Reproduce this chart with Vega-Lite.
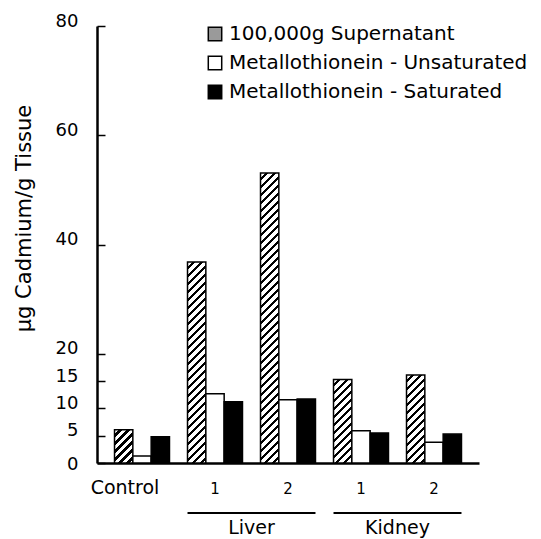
{
"$schema": "https://vega.github.io/schema/vega-lite/v6.json",
"width": 382, "height": 437,
"autosize": {"type": "none"},
"padding": {"left": 97, "top": 26, "right": 62, "bottom": 76},
"background": "white",
"config": {"view": {"stroke": null}, "font": "DejaVu Sans"},
"layer": [
{
"data": {"values": [
{"group": "Control", "series": "100,000g Supernatant", "value": 6.1},
{"group": "Control", "series": "Metallothionein - Unsaturated", "value": 1.3},
{"group": "Control", "series": "Metallothionein - Saturated", "value": 4.8},
{"group": "Liver 1", "series": "100,000g Supernatant", "value": 36.8},
{"group": "Liver 1", "series": "Metallothionein - Unsaturated", "value": 12.7},
{"group": "Liver 1", "series": "Metallothionein - Saturated", "value": 11.2},
{"group": "Liver 2", "series": "100,000g Supernatant", "value": 53.1},
{"group": "Liver 2", "series": "Metallothionein - Unsaturated", "value": 11.6},
{"group": "Liver 2", "series": "Metallothionein - Saturated", "value": 11.7},
{"group": "Kidney 1", "series": "100,000g Supernatant", "value": 15.3},
{"group": "Kidney 1", "series": "Metallothionein - Unsaturated", "value": 5.9},
{"group": "Kidney 1", "series": "Metallothionein - Saturated", "value": 5.5},
{"group": "Kidney 2", "series": "100,000g Supernatant", "value": 16.1},
{"group": "Kidney 2", "series": "Metallothionein - Unsaturated", "value": 3.8},
{"group": "Kidney 2", "series": "Metallothionein - Saturated", "value": 5.3}
]},
"mark": {"type": "bar", "stroke": "black", "strokeWidth": 1.5},
"encoding": {
"x": {"field": "group", "type": "nominal",
 "scale": {"domain": ["Control", "Liver 1", "Liver 2", "Kidney 1", "Kidney 2"], "paddingInner": 0.247, "paddingOuter": 0.24},
 "axis": {"title": null, "ticks": false, "domainColor": "black", "domainWidth": 2.5, "labelAngle": 0,
  "labelExpr": "datum.label === 'Control' ? 'Control' : slice(datum.label, -1)",
  "labelFontSize": {"condition": {"test": "datum.value === 'Control'", "value": 19}, "value": 15},
  "labelOffset": {"condition": {"test": "datum.value === 'Control'", "value": -17}, "value": 0},
  "labelBaseline": "alphabetic", "labelPadding": 30, "labelColor": "black", "labelFont": "DejaVu Sans"}},
"xOffset": {"field": "series", "type": "nominal", "scale": {"domain": ["100,000g Supernatant", "Metallothionein - Unsaturated", "Metallothionein - Saturated"], "paddingInner": 0, "paddingOuter": 0}},
"y": {"field": "value", "type": "quantitative", "scale": {"domain": [0, 80], "nice": false},
 "axis": {"values": [0, 5, 10, 15, 20, 40, 60, 80], "title": "μg Cadmium/g Tissue", "titleFontSize": 21, "titleFontWeight": "normal", "titleFont": "DejaVu Sans", "titleColor": "black", "titleX": -73, "titleY": 192, "titleAngle": -90, "titleAlign": "center", "titleBaseline": "middle",
  "grid": false, "domainColor": "black", "domainWidth": 2.5, "tickColor": "black", "tickWidth": 1.5, "tickSize": -8, "labelPadding": 27, "labelFontSize": 18, "labelColor": "black", "labelFont": "DejaVu Sans", "labelOverlap": false, "labelFlush": false,
  "labelOffset": {"condition": {"test": "datum.value === 0", "value": 1.5}, "value": -5}}},
"fill": {
 "condition": [
  {"test": "datum.group === 'Control' && datum.series === '100,000g Supernatant'", "value": {"gradient": "linear", "x1": 0, "y1": 0, "x2": 4.056, "y2": 7.372, "stops": [
{"offset":0,"color":"#fff"},{"offset":0.015,"color":"#fff"},{"offset":0.015,"color":"#000"},{"offset":0.025,"color":"#000"},
{"offset":0.025,"color":"#fff"},{"offset":0.04,"color":"#fff"},{"offset":0.04,"color":"#000"},{"offset":0.05,"color":"#000"},
{"offset":0.05,"color":"#fff"},{"offset":0.065,"color":"#fff"},{"offset":0.065,"color":"#000"},{"offset":0.075,"color":"#000"},
{"offset":0.075,"color":"#fff"},{"offset":0.09,"color":"#fff"},{"offset":0.09,"color":"#000"},{"offset":0.1,"color":"#000"},
{"offset":0.1,"color":"#fff"},{"offset":0.115,"color":"#fff"},{"offset":0.115,"color":"#000"},{"offset":0.125,"color":"#000"},
{"offset":0.125,"color":"#fff"},{"offset":0.14,"color":"#fff"},{"offset":0.14,"color":"#000"},{"offset":0.15,"color":"#000"},
{"offset":0.15,"color":"#fff"},{"offset":0.165,"color":"#fff"},{"offset":0.165,"color":"#000"},{"offset":0.175,"color":"#000"}
  ]}},
  {"test": "datum.group === 'Kidney 1' && datum.series === '100,000g Supernatant'", "value": {"gradient": "linear", "x1": 0, "y1": 0, "x2": 0.8013, "y2": 3.653, "stops": [
{"offset":0,"color":"#fff"},{"offset":0.015,"color":"#fff"},{"offset":0.015,"color":"#000"},{"offset":0.025,"color":"#000"},
{"offset":0.025,"color":"#fff"},{"offset":0.04,"color":"#fff"},{"offset":0.04,"color":"#000"},{"offset":0.05,"color":"#000"},
{"offset":0.05,"color":"#fff"},{"offset":0.065,"color":"#fff"},{"offset":0.065,"color":"#000"},{"offset":0.075,"color":"#000"},
{"offset":0.075,"color":"#fff"},{"offset":0.09,"color":"#fff"},{"offset":0.09,"color":"#000"},{"offset":0.1,"color":"#000"},
{"offset":0.1,"color":"#fff"},{"offset":0.115,"color":"#fff"},{"offset":0.115,"color":"#000"},{"offset":0.125,"color":"#000"},
{"offset":0.125,"color":"#fff"},{"offset":0.14,"color":"#fff"},{"offset":0.14,"color":"#000"},{"offset":0.15,"color":"#000"},
{"offset":0.15,"color":"#fff"},{"offset":0.165,"color":"#fff"},{"offset":0.165,"color":"#000"},{"offset":0.175,"color":"#000"},
{"offset":0.175,"color":"#fff"},{"offset":0.19,"color":"#fff"},{"offset":0.19,"color":"#000"},{"offset":0.2,"color":"#000"},
{"offset":0.2,"color":"#fff"},{"offset":0.215,"color":"#fff"},{"offset":0.215,"color":"#000"},{"offset":0.225,"color":"#000"},
{"offset":0.225,"color":"#fff"},{"offset":0.24,"color":"#fff"},{"offset":0.24,"color":"#000"},{"offset":0.25,"color":"#000"},
{"offset":0.25,"color":"#fff"},{"offset":0.265,"color":"#fff"},{"offset":0.265,"color":"#000"},{"offset":0.275,"color":"#000"},
{"offset":0.275,"color":"#fff"},{"offset":0.29,"color":"#fff"},{"offset":0.29,"color":"#000"},{"offset":0.3,"color":"#000"},
{"offset":0.3,"color":"#fff"},{"offset":0.315,"color":"#fff"},{"offset":0.315,"color":"#000"},{"offset":0.325,"color":"#000"}
  ]}},
  {"test": "datum.group === 'Kidney 2' && datum.series === '100,000g Supernatant'", "value": {"gradient": "linear", "x1": 0, "y1": 0, "x2": 0.7269, "y2": 3.487, "stops": [
{"offset":0,"color":"#fff"},{"offset":0.015,"color":"#fff"},{"offset":0.015,"color":"#000"},{"offset":0.025,"color":"#000"},
{"offset":0.025,"color":"#fff"},{"offset":0.04,"color":"#fff"},{"offset":0.04,"color":"#000"},{"offset":0.05,"color":"#000"},
{"offset":0.05,"color":"#fff"},{"offset":0.065,"color":"#fff"},{"offset":0.065,"color":"#000"},{"offset":0.075,"color":"#000"},
{"offset":0.075,"color":"#fff"},{"offset":0.09,"color":"#fff"},{"offset":0.09,"color":"#000"},{"offset":0.1,"color":"#000"},
{"offset":0.1,"color":"#fff"},{"offset":0.115,"color":"#fff"},{"offset":0.115,"color":"#000"},{"offset":0.125,"color":"#000"},
{"offset":0.125,"color":"#fff"},{"offset":0.14,"color":"#fff"},{"offset":0.14,"color":"#000"},{"offset":0.15,"color":"#000"},
{"offset":0.15,"color":"#fff"},{"offset":0.165,"color":"#fff"},{"offset":0.165,"color":"#000"},{"offset":0.175,"color":"#000"},
{"offset":0.175,"color":"#fff"},{"offset":0.19,"color":"#fff"},{"offset":0.19,"color":"#000"},{"offset":0.2,"color":"#000"},
{"offset":0.2,"color":"#fff"},{"offset":0.215,"color":"#fff"},{"offset":0.215,"color":"#000"},{"offset":0.225,"color":"#000"},
{"offset":0.225,"color":"#fff"},{"offset":0.24,"color":"#fff"},{"offset":0.24,"color":"#000"},{"offset":0.25,"color":"#000"},
{"offset":0.25,"color":"#fff"},{"offset":0.265,"color":"#fff"},{"offset":0.265,"color":"#000"},{"offset":0.275,"color":"#000"},
{"offset":0.275,"color":"#fff"},{"offset":0.29,"color":"#fff"},{"offset":0.29,"color":"#000"},{"offset":0.3,"color":"#000"},
{"offset":0.3,"color":"#fff"},{"offset":0.315,"color":"#fff"},{"offset":0.315,"color":"#000"},{"offset":0.325,"color":"#000"},
{"offset":0.325,"color":"#fff"},{"offset":0.34,"color":"#fff"},{"offset":0.34,"color":"#000"},{"offset":0.35,"color":"#000"}
  ]}},
  {"test": "datum.group === 'Liver 1' && datum.series === '100,000g Supernatant'", "value": {"gradient": "linear", "x1": 0, "y1": 0, "x2": 0.144, "y2": 1.5788, "stops": [
{"offset":0,"color":"#fff"},{"offset":0.015,"color":"#fff"},{"offset":0.015,"color":"#000"},{"offset":0.025,"color":"#000"},
{"offset":0.025,"color":"#fff"},{"offset":0.04,"color":"#fff"},{"offset":0.04,"color":"#000"},{"offset":0.05,"color":"#000"},
{"offset":0.05,"color":"#fff"},{"offset":0.065,"color":"#fff"},{"offset":0.065,"color":"#000"},{"offset":0.075,"color":"#000"},
{"offset":0.075,"color":"#fff"},{"offset":0.09,"color":"#fff"},{"offset":0.09,"color":"#000"},{"offset":0.1,"color":"#000"},
{"offset":0.1,"color":"#fff"},{"offset":0.115,"color":"#fff"},{"offset":0.115,"color":"#000"},{"offset":0.125,"color":"#000"},
{"offset":0.125,"color":"#fff"},{"offset":0.14,"color":"#fff"},{"offset":0.14,"color":"#000"},{"offset":0.15,"color":"#000"},
{"offset":0.15,"color":"#fff"},{"offset":0.165,"color":"#fff"},{"offset":0.165,"color":"#000"},{"offset":0.175,"color":"#000"},
{"offset":0.175,"color":"#fff"},{"offset":0.19,"color":"#fff"},{"offset":0.19,"color":"#000"},{"offset":0.2,"color":"#000"},
{"offset":0.2,"color":"#fff"},{"offset":0.215,"color":"#fff"},{"offset":0.215,"color":"#000"},{"offset":0.225,"color":"#000"},
{"offset":0.225,"color":"#fff"},{"offset":0.24,"color":"#fff"},{"offset":0.24,"color":"#000"},{"offset":0.25,"color":"#000"},
{"offset":0.25,"color":"#fff"},{"offset":0.265,"color":"#fff"},{"offset":0.265,"color":"#000"},{"offset":0.275,"color":"#000"},
{"offset":0.275,"color":"#fff"},{"offset":0.29,"color":"#fff"},{"offset":0.29,"color":"#000"},{"offset":0.3,"color":"#000"},
{"offset":0.3,"color":"#fff"},{"offset":0.315,"color":"#fff"},{"offset":0.315,"color":"#000"},{"offset":0.325,"color":"#000"},
{"offset":0.325,"color":"#fff"},{"offset":0.34,"color":"#fff"},{"offset":0.34,"color":"#000"},{"offset":0.35,"color":"#000"},
{"offset":0.35,"color":"#fff"},{"offset":0.365,"color":"#fff"},{"offset":0.365,"color":"#000"},{"offset":0.375,"color":"#000"},
{"offset":0.375,"color":"#fff"},{"offset":0.39,"color":"#fff"},{"offset":0.39,"color":"#000"},{"offset":0.4,"color":"#000"},
{"offset":0.4,"color":"#fff"},{"offset":0.415,"color":"#fff"},{"offset":0.415,"color":"#000"},{"offset":0.425,"color":"#000"},
{"offset":0.425,"color":"#fff"},{"offset":0.44,"color":"#fff"},{"offset":0.44,"color":"#000"},{"offset":0.45,"color":"#000"},
{"offset":0.45,"color":"#fff"},{"offset":0.465,"color":"#fff"},{"offset":0.465,"color":"#000"},{"offset":0.475,"color":"#000"},
{"offset":0.475,"color":"#fff"},{"offset":0.49,"color":"#fff"},{"offset":0.49,"color":"#000"},{"offset":0.5,"color":"#000"},
{"offset":0.5,"color":"#fff"},{"offset":0.515,"color":"#fff"},{"offset":0.515,"color":"#000"},{"offset":0.525,"color":"#000"},
{"offset":0.525,"color":"#fff"},{"offset":0.54,"color":"#fff"},{"offset":0.54,"color":"#000"},{"offset":0.55,"color":"#000"},
{"offset":0.55,"color":"#fff"},{"offset":0.565,"color":"#fff"},{"offset":0.565,"color":"#000"},{"offset":0.575,"color":"#000"},
{"offset":0.575,"color":"#fff"},{"offset":0.59,"color":"#fff"},{"offset":0.59,"color":"#000"},{"offset":0.6,"color":"#000"},
{"offset":0.6,"color":"#fff"},{"offset":0.615,"color":"#fff"},{"offset":0.615,"color":"#000"},{"offset":0.625,"color":"#000"},
{"offset":0.625,"color":"#fff"},{"offset":0.64,"color":"#fff"},{"offset":0.64,"color":"#000"},{"offset":0.65,"color":"#000"},
{"offset":0.65,"color":"#fff"},{"offset":0.665,"color":"#fff"},{"offset":0.665,"color":"#000"},{"offset":0.675,"color":"#000"},
{"offset":0.675,"color":"#fff"},{"offset":0.69,"color":"#fff"},{"offset":0.69,"color":"#000"},{"offset":0.7,"color":"#000"}
  ]}},
  {"test": "datum.group === 'Liver 2' && datum.series === '100,000g Supernatant'", "value": {"gradient": "linear", "x1": 0, "y1": 0, "x2": 0.06945, "y2": 1.0988, "stops": [
{"offset":0,"color":"#fff"},{"offset":0.015,"color":"#fff"},{"offset":0.015,"color":"#000"},{"offset":0.025,"color":"#000"},
{"offset":0.025,"color":"#fff"},{"offset":0.04,"color":"#fff"},{"offset":0.04,"color":"#000"},{"offset":0.05,"color":"#000"},
{"offset":0.05,"color":"#fff"},{"offset":0.065,"color":"#fff"},{"offset":0.065,"color":"#000"},{"offset":0.075,"color":"#000"},
{"offset":0.075,"color":"#fff"},{"offset":0.09,"color":"#fff"},{"offset":0.09,"color":"#000"},{"offset":0.1,"color":"#000"},
{"offset":0.1,"color":"#fff"},{"offset":0.115,"color":"#fff"},{"offset":0.115,"color":"#000"},{"offset":0.125,"color":"#000"},
{"offset":0.125,"color":"#fff"},{"offset":0.14,"color":"#fff"},{"offset":0.14,"color":"#000"},{"offset":0.15,"color":"#000"},
{"offset":0.15,"color":"#fff"},{"offset":0.165,"color":"#fff"},{"offset":0.165,"color":"#000"},{"offset":0.175,"color":"#000"},
{"offset":0.175,"color":"#fff"},{"offset":0.19,"color":"#fff"},{"offset":0.19,"color":"#000"},{"offset":0.2,"color":"#000"},
{"offset":0.2,"color":"#fff"},{"offset":0.215,"color":"#fff"},{"offset":0.215,"color":"#000"},{"offset":0.225,"color":"#000"},
{"offset":0.225,"color":"#fff"},{"offset":0.24,"color":"#fff"},{"offset":0.24,"color":"#000"},{"offset":0.25,"color":"#000"},
{"offset":0.25,"color":"#fff"},{"offset":0.265,"color":"#fff"},{"offset":0.265,"color":"#000"},{"offset":0.275,"color":"#000"},
{"offset":0.275,"color":"#fff"},{"offset":0.29,"color":"#fff"},{"offset":0.29,"color":"#000"},{"offset":0.3,"color":"#000"},
{"offset":0.3,"color":"#fff"},{"offset":0.315,"color":"#fff"},{"offset":0.315,"color":"#000"},{"offset":0.325,"color":"#000"},
{"offset":0.325,"color":"#fff"},{"offset":0.34,"color":"#fff"},{"offset":0.34,"color":"#000"},{"offset":0.35,"color":"#000"},
{"offset":0.35,"color":"#fff"},{"offset":0.365,"color":"#fff"},{"offset":0.365,"color":"#000"},{"offset":0.375,"color":"#000"},
{"offset":0.375,"color":"#fff"},{"offset":0.39,"color":"#fff"},{"offset":0.39,"color":"#000"},{"offset":0.4,"color":"#000"},
{"offset":0.4,"color":"#fff"},{"offset":0.415,"color":"#fff"},{"offset":0.415,"color":"#000"},{"offset":0.425,"color":"#000"},
{"offset":0.425,"color":"#fff"},{"offset":0.44,"color":"#fff"},{"offset":0.44,"color":"#000"},{"offset":0.45,"color":"#000"},
{"offset":0.45,"color":"#fff"},{"offset":0.465,"color":"#fff"},{"offset":0.465,"color":"#000"},{"offset":0.475,"color":"#000"},
{"offset":0.475,"color":"#fff"},{"offset":0.49,"color":"#fff"},{"offset":0.49,"color":"#000"},{"offset":0.5,"color":"#000"},
{"offset":0.5,"color":"#fff"},{"offset":0.515,"color":"#fff"},{"offset":0.515,"color":"#000"},{"offset":0.525,"color":"#000"},
{"offset":0.525,"color":"#fff"},{"offset":0.54,"color":"#fff"},{"offset":0.54,"color":"#000"},{"offset":0.55,"color":"#000"},
{"offset":0.55,"color":"#fff"},{"offset":0.565,"color":"#fff"},{"offset":0.565,"color":"#000"},{"offset":0.575,"color":"#000"},
{"offset":0.575,"color":"#fff"},{"offset":0.59,"color":"#fff"},{"offset":0.59,"color":"#000"},{"offset":0.6,"color":"#000"},
{"offset":0.6,"color":"#fff"},{"offset":0.615,"color":"#fff"},{"offset":0.615,"color":"#000"},{"offset":0.625,"color":"#000"},
{"offset":0.625,"color":"#fff"},{"offset":0.64,"color":"#fff"},{"offset":0.64,"color":"#000"},{"offset":0.65,"color":"#000"},
{"offset":0.65,"color":"#fff"},{"offset":0.665,"color":"#fff"},{"offset":0.665,"color":"#000"},{"offset":0.675,"color":"#000"},
{"offset":0.675,"color":"#fff"},{"offset":0.69,"color":"#fff"},{"offset":0.69,"color":"#000"},{"offset":0.7,"color":"#000"},
{"offset":0.7,"color":"#fff"},{"offset":0.715,"color":"#fff"},{"offset":0.715,"color":"#000"},{"offset":0.725,"color":"#000"},
{"offset":0.725,"color":"#fff"},{"offset":0.74,"color":"#fff"},{"offset":0.74,"color":"#000"},{"offset":0.75,"color":"#000"},
{"offset":0.75,"color":"#fff"},{"offset":0.765,"color":"#fff"},{"offset":0.765,"color":"#000"},{"offset":0.775,"color":"#000"},
{"offset":0.775,"color":"#fff"},{"offset":0.79,"color":"#fff"},{"offset":0.79,"color":"#000"},{"offset":0.8,"color":"#000"},
{"offset":0.8,"color":"#fff"},{"offset":0.815,"color":"#fff"},{"offset":0.815,"color":"#000"},{"offset":0.825,"color":"#000"},
{"offset":0.825,"color":"#fff"},{"offset":0.84,"color":"#fff"},{"offset":0.84,"color":"#000"},{"offset":0.85,"color":"#000"},
{"offset":0.85,"color":"#fff"},{"offset":0.865,"color":"#fff"},{"offset":0.865,"color":"#000"},{"offset":0.875,"color":"#000"},
{"offset":0.875,"color":"#fff"},{"offset":0.89,"color":"#fff"},{"offset":0.89,"color":"#000"},{"offset":0.9,"color":"#000"},
{"offset":0.9,"color":"#fff"},{"offset":0.915,"color":"#fff"},{"offset":0.915,"color":"#000"},{"offset":0.925,"color":"#000"},
{"offset":0.925,"color":"#fff"},{"offset":0.94,"color":"#fff"},{"offset":0.94,"color":"#000"},{"offset":0.95,"color":"#000"},
{"offset":0.95,"color":"#fff"},{"offset":0.965,"color":"#fff"},{"offset":0.965,"color":"#000"},{"offset":0.975,"color":"#000"}
  ]}}
 ],
 "field": "series", "type": "nominal",
 "scale": {"domain": ["100,000g Supernatant", "Metallothionein - Unsaturated", "Metallothionein - Saturated"], "range": ["#9a9a9a", "#ffffff", "#000000"]},
 "legend": {"orient": "none", "legendX": 108, "legendY": -2, "title": null, "padding": 0,
  "symbolType": "square", "symbolSize": 180, "symbolStrokeColor": "black", "symbolStrokeWidth": 1.5,
  "labelFont": "DejaVu Sans", "labelFontSize": 20, "labelColor": "black", "labelOffset": 4, "labelLimit": 400, "rowPadding": 9}
}
}
},
{
"data": {"values": [{"organ": "Liver", "from": "Liver 1", "to": "Liver 2"}, {"organ": "Kidney", "from": "Kidney 1", "to": "Kidney 2"}]},
"mark": {"type": "rule", "stroke": "black", "strokeWidth": 2},
"encoding": {
"x": {"field": "from", "type": "nominal", "bandPosition": 0, "title": null, "scale": {"domain": ["Control", "Liver 1", "Liver 2", "Kidney 1", "Kidney 2"], "paddingInner": 0.247, "paddingOuter": 0.24}},
"x2": {"field": "to", "bandPosition": 1},
"y": {"datum": -9.15, "type": "quantitative", "scale": {"domain": [0, 80], "nice": false}}
}
},
{
"data": {"values": [{"organ": "Liver", "from": "Liver 1", "to": "Liver 2"}, {"organ": "Kidney", "from": "Kidney 1", "to": "Kidney 2"}]},
"mark": {"type": "text", "fontSize": 19, "font": "DejaVu Sans", "baseline": "alphabetic", "align": "center", "color": "black"},
"encoding": {
"x": {"field": "from", "type": "nominal", "bandPosition": 1.164, "title": null, "scale": {"domain": ["Control", "Liver 1", "Liver 2", "Kidney 1", "Kidney 2"], "paddingInner": 0.247, "paddingOuter": 0.24}},
"y": {"datum": -12.95, "type": "quantitative", "scale": {"domain": [0, 80], "nice": false}},
"text": {"field": "organ"}
}
}
]
}
